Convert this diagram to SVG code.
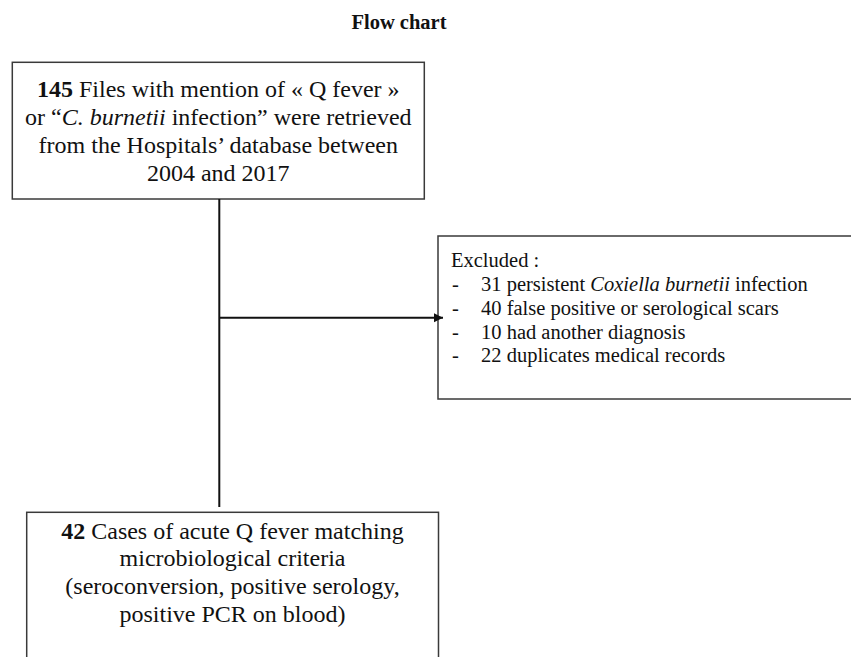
<svg xmlns="http://www.w3.org/2000/svg" width="851" height="657" viewBox="0 0 851 657">
<defs>
<style>
.box{fill:#fff;stroke:#3a3a3a;stroke-width:1.5}
.t{font-family:"Liberation Serif","Times New Roman",serif;fill:#111}
.c24{font-size:24px;text-anchor:middle}
.e{font-size:20.5px}
.conn{stroke:#111;stroke-width:2;fill:none}
</style>
<marker id="arr" markerWidth="12" markerHeight="12" refX="9" refY="5" orient="auto" markerUnits="userSpaceOnUse">
<path d="M0,0.5 L9,5 L0,9.5 Z" fill="#111"/>
</marker>
</defs>
<rect width="851" height="657" fill="#fff"/>
<text class="t" x="399" y="29" font-size="20.5" font-weight="bold" text-anchor="middle">Flow chart</text>
<g id="node-retrieved">
<rect class="box" x="12.3" y="62.3" width="412" height="136.7"/>
<text class="t c24" x="218.3" y="97.3"><tspan font-weight="bold">145</tspan> Files with mention of « Q fever »</text>
<text class="t c24" x="218.3" y="125">or “<tspan font-style="italic">C. burnetii</tspan> infection” were retrieved</text>
<text class="t c24" x="218.3" y="153">from the Hospitals’ database between</text>
<text class="t c24" x="218.3" y="181">2004 and 2017</text>
</g>
<g id="node-excluded">
<rect class="box" x="438" y="236" width="420" height="163"/>
<text class="t e" x="451" y="267">Excluded :</text>
<text class="t e" x="452" y="291">-</text>
<text class="t e" x="481" y="291">31 persistent <tspan font-style="italic">Coxiella burnetii</tspan> infection</text>
<text class="t e" x="452" y="315">-</text>
<text class="t e" x="481" y="315">40 false positive or serological scars</text>
<text class="t e" x="452" y="338.5">-</text>
<text class="t e" x="481" y="338.5">10 had another diagnosis</text>
<text class="t e" x="452" y="362">-</text>
<text class="t e" x="481" y="362">22 duplicates medical records</text>
</g>
<g id="node-cases">
<rect class="box" x="26.7" y="512.3" width="411.8" height="160"/>
<text class="t c24" x="232.5" y="539"><tspan font-weight="bold">42</tspan> Cases of acute Q fever matching</text>
<text class="t c24" x="232.5" y="566">microbiological criteria</text>
<text class="t c24" x="232.5" y="594">(seroconversion, positive serology,</text>
<text class="t c24" x="232.5" y="622">positive PCR on blood)</text>
</g>
<g id="connectors">
<line class="conn" x1="219.3" y1="199" x2="219.3" y2="507"/>
<line class="conn" x1="219.3" y1="317.7" x2="443" y2="317.7" marker-end="url(#arr)"/>
</g>
</svg>
